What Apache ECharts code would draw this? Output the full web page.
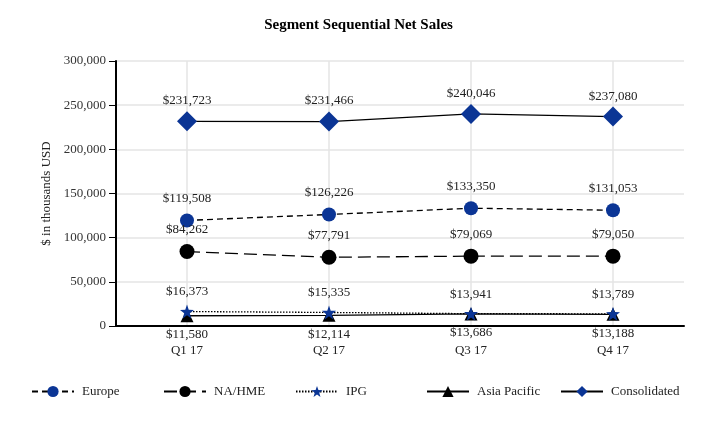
<!DOCTYPE html>
<html>
<head>
<meta charset="utf-8">
<script src="https://cdn.jsdelivr.net/npm/echarts@6/dist/echarts.min.js"></script>
<style>html,body{margin:0;padding:0;background:#fff;}#c{width:717px;height:428px;}</style>
</head>
<body>
<div id="c"></div>
<script>
const categories = ['Q1 17', 'Q2 17', 'Q3 17', 'Q4 17'];
const europe = [119508, 126226, 133350, 131053];
const naHme = [84262, 77791, 79069, 79050];
const ipg = [16373, 15335, 13941, 13789];
const asiaPacific = [11580, 12114, 13686, 13188];
const consolidated = [231723, 231466, 240046, 237080];
const yTicks = [0, 50000, 100000, 150000, 200000, 250000, 300000];

const FONT = 'Liberation Serif';
const BLUE = '#0b3595';
const fmtMoney = v => '$' + v.toLocaleString('en-US');

function labelCfg(pos, dist) {
  return {
    show: true, position: pos, distance: dist,
    formatter: p => fmtMoney(p.value),
    fontFamily: FONT, fontSize: 13, color: '#222'
  };
}

const legendNames = ['Europe', 'NA/HME', 'IPG', 'Asia Pacific', 'Consolidated'];
const legendLefts = [26, 158, 290, 421, 555];

const chart = echarts.init(document.getElementById('c'));
chart.setOption({
  animation: false,
  title: {
    text: 'Segment Sequential Net Sales',
    left: 'center', top: 13,
    textStyle: { fontFamily: FONT, fontSize: 15, fontWeight: 'bold', color: '#000' }
  },
  legend: legendNames.map((n, i) => ({
    data: [n], left: legendLefts[i], top: 380,
    itemWidth: 42, itemHeight: 14, itemGap: 0,
    textStyle: { fontFamily: FONT, fontSize: 13, color: '#222', padding: [0, 0, 0, 3] },
    selectedMode: false
  })),
  grid: { left: 116, right: 33, top: 61, bottom: 102 },
  xAxis: {
    type: 'category', data: categories, boundaryGap: true,
    axisLine: { lineStyle: { color: '#000', width: 2 } },
    axisTick: { show: false },
    axisLabel: { fontFamily: FONT, fontSize: 13, color: '#222', margin: 18 },
    splitLine: { show: false }
  },
  yAxis: {
    type: 'value', min: yTicks[0], max: yTicks[yTicks.length - 1], interval: yTicks[1] - yTicks[0],
    name: '$ in thousands USD', nameLocation: 'middle', nameGap: 60,
    nameTextStyle: { fontFamily: FONT, fontSize: 13, color: '#222' },
    axisLine: { show: true, lineStyle: { color: '#000', width: 2 } },
    axisTick: { show: true, length: 7, lineStyle: { color: '#000', width: 1 } },
    axisLabel: { fontFamily: FONT, fontSize: 13, color: '#333', margin: 10,
      formatter: v => v.toLocaleString('en-US') },
    splitLine: { show: true, lineStyle: { color: '#e4e4e4', width: 1.5 } }
  },
  series: [
    {
      name: 'Europe', type: 'line', data: europe,
      symbol: 'circle', symbolSize: 14,
      itemStyle: { color: BLUE },
      lineStyle: { color: '#000', width: 1.3, type: [6, 4] },
      label: labelCfg('top', 8),
      markLine: {
        silent: true, symbol: 'none', label: { show: false }, z: 0,
        lineStyle: { color: '#e4e4e4', width: 1.5, type: 'solid' },
        data: categories.map(c => ({ xAxis: c }))
      },
      z: 3
    },
    {
      name: 'NA/HME', type: 'line', data: naHme,
      symbol: 'circle', symbolSize: 15,
      itemStyle: { color: '#000' },
      lineStyle: { color: '#000', width: 1.3, type: [13, 6] },
      label: labelCfg('top', 8),
      z: 3
    },
    {
      name: 'Asia Pacific', type: 'line', data: asiaPacific,
      symbol: 'triangle', symbolSize: 13,
      itemStyle: { color: '#000' },
      lineStyle: { color: '#000', width: 1.3, type: 'solid' },
      label: labelCfg('bottom', 6),
      z: 3
    },
    {
      name: 'IPG', type: 'line', data: ipg,
      symbol: 'path://M0,-10 L2.35,-3.24 L9.51,-3.09 L3.8,1.24 L5.88,8.09 L0,4 L-5.88,8.09 L-3.8,1.24 L-9.51,-3.09 L-2.35,-3.24 Z',
      symbolSize: 14,
      itemStyle: { color: BLUE },
      lineStyle: { color: '#000', width: 1.3, type: [1.5, 1.5] },
      label: labelCfg('top', 6),
      z: 4
    },
    {
      name: 'Consolidated', type: 'line', data: consolidated,
      symbol: 'diamond', symbolSize: 20,
      itemStyle: { color: BLUE },
      lineStyle: { color: '#000', width: 1.3, type: 'solid' },
      label: labelCfg('top', 4),
      z: 3
    }
  ]
});
</script>
</body>
</html>
